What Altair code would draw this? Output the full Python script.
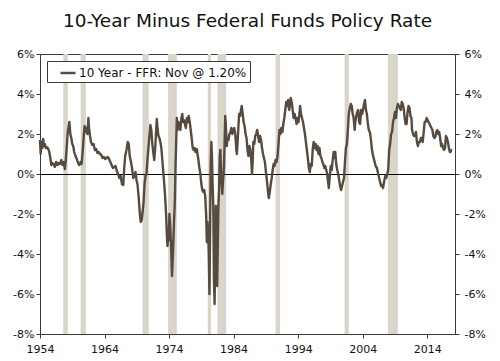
import altair as alt
import pandas as pd

# ---- data ----
years = [
    1954.0, 1954.1, 1954.2, 1954.35, 1954.5, 1954.6, 1954.75, 1954.9, 1955.0, 1955.2,
    1955.4, 1955.55, 1955.75, 1955.9, 1956.1, 1956.3, 1956.5, 1956.7, 1956.9, 1957.1,
    1957.3, 1957.5, 1957.7, 1957.85, 1958.0, 1958.15, 1958.3, 1958.45, 1958.55, 1958.7,
    1958.85, 1959.0, 1959.15, 1959.3, 1959.5, 1959.7, 1959.9, 1960.1, 1960.3, 1960.45,
    1960.6, 1960.75, 1960.9, 1961.05, 1961.2, 1961.35, 1961.5, 1961.6, 1961.75, 1961.9,
    1962.1, 1962.3, 1962.5, 1962.7, 1962.9, 1963.1, 1963.3, 1963.5, 1963.7, 1963.9,
    1964.1, 1964.3, 1964.5, 1964.7, 1964.9, 1965.1, 1965.3, 1965.5, 1965.7, 1965.9,
    1966.1, 1966.3, 1966.5, 1966.7, 1966.9, 1967.05, 1967.2, 1967.4, 1967.6, 1967.75,
    1967.9, 1968.1, 1968.3, 1968.45, 1968.6, 1968.8, 1968.95, 1969.1, 1969.3, 1969.45,
    1969.6, 1969.75, 1969.9, 1970.05, 1970.2, 1970.35, 1970.5, 1970.65, 1970.8, 1970.95,
    1971.1, 1971.25, 1971.4, 1971.55, 1971.7, 1971.85, 1972.0, 1972.1, 1972.2, 1972.35,
    1972.5, 1972.65, 1972.8, 1972.95, 1973.1, 1973.25, 1973.4, 1973.55, 1973.65, 1973.75,
    1973.85, 1973.95, 1974.05, 1974.15, 1974.3, 1974.45, 1974.6, 1974.75, 1974.9, 1975.0,
    1975.1, 1975.2, 1975.3, 1975.45, 1975.6, 1975.75, 1975.9, 1976.05, 1976.15, 1976.3,
    1976.45, 1976.6, 1976.75, 1976.9, 1977.05, 1977.2, 1977.35, 1977.5, 1977.65, 1977.8,
    1977.95, 1978.1, 1978.3, 1978.5, 1978.7, 1978.85, 1979.0, 1979.15, 1979.3, 1979.45,
    1979.6, 1979.75, 1979.85, 1979.95, 1980.05, 1980.15, 1980.25, 1980.35, 1980.45, 1980.55,
    1980.65, 1980.75, 1980.85, 1980.95, 1981.05, 1981.15, 1981.25, 1981.35, 1981.45, 1981.55,
    1981.65, 1981.75, 1981.85, 1981.95, 1982.05, 1982.15, 1982.25, 1982.35, 1982.5, 1982.6,
    1982.7, 1982.8, 1982.95, 1983.05, 1983.2, 1983.35, 1983.5, 1983.65, 1983.8, 1983.95,
    1984.1, 1984.25, 1984.4, 1984.5, 1984.65, 1984.85, 1985.0, 1985.15, 1985.25, 1985.4,
    1985.55, 1985.7, 1985.85, 1986.0, 1986.15, 1986.3, 1986.45, 1986.6, 1986.75, 1986.85,
    1986.95, 1987.05, 1987.2, 1987.35, 1987.5, 1987.65, 1987.8, 1987.95, 1988.1, 1988.25,
    1988.4, 1988.55, 1988.7, 1988.85, 1989.0, 1989.15, 1989.3, 1989.45, 1989.6, 1989.75,
    1989.9, 1990.05, 1990.2, 1990.35, 1990.5, 1990.65, 1990.8, 1990.95, 1991.1, 1991.25,
    1991.4, 1991.55, 1991.7, 1991.85, 1992.0, 1992.15, 1992.3, 1992.45, 1992.6, 1992.75,
    1992.85, 1993.0, 1993.15, 1993.3, 1993.45, 1993.6, 1993.75, 1993.9, 1994.05, 1994.2,
    1994.3, 1994.45, 1994.6, 1994.75, 1994.9, 1995.05, 1995.2, 1995.35, 1995.5, 1995.65,
    1995.8, 1995.95, 1996.1, 1996.25, 1996.4, 1996.55, 1996.7, 1996.85, 1997.0, 1997.15,
    1997.3, 1997.45, 1997.6, 1997.75, 1997.9, 1998.05, 1998.2, 1998.35, 1998.5, 1998.6,
    1998.75, 1998.9, 1999.05, 1999.2, 1999.35, 1999.5, 1999.6, 1999.75, 1999.9, 2000.05,
    2000.2, 2000.35, 2000.5, 2000.65, 2000.8, 2000.95, 2001.1, 2001.25, 2001.4, 2001.55,
    2001.7, 2001.85, 2002.0, 2002.15, 2002.3, 2002.45, 2002.6, 2002.75, 2002.85, 2003.0,
    2003.15, 2003.3, 2003.45, 2003.6, 2003.75, 2003.9, 2004.05, 2004.2, 2004.35, 2004.5,
    2004.65, 2004.8, 2004.95, 2005.1, 2005.25, 2005.4, 2005.55, 2005.7, 2005.85, 2006.0,
    2006.2, 2006.4, 2006.55, 2006.7, 2006.85, 2007.0, 2007.15, 2007.3, 2007.5, 2007.65,
    2007.8, 2007.95, 2008.1, 2008.25, 2008.4, 2008.55, 2008.7, 2008.85, 2009.0, 2009.15,
    2009.3, 2009.45, 2009.6, 2009.75, 2009.9, 2010.05, 2010.2, 2010.35, 2010.5, 2010.65,
    2010.8, 2010.95, 2011.1, 2011.25, 2011.4, 2011.55, 2011.65, 2011.8, 2011.95, 2012.1,
    2012.25, 2012.4, 2012.55, 2012.7, 2012.85, 2013.0, 2013.15, 2013.3, 2013.45, 2013.6,
    2013.75, 2013.9, 2014.05, 2014.2, 2014.35, 2014.5, 2014.65, 2014.8, 2014.95, 2015.1,
    2015.25, 2015.4, 2015.55, 2015.7, 2015.85, 2016.0, 2016.15, 2016.3, 2016.45, 2016.6,
    2016.75, 2016.9, 2017.05, 2017.2, 2017.35, 2017.5, 2017.6, 2017.75, 2017.83,
]
spread = [
    1.70, 1.00, 1.60, 1.30, 1.75, 1.40, 1.50, 1.30, 1.35, 1.30,
    1.15, 0.90, 0.45, 0.55, 0.50, 0.35, 0.60, 0.45, 0.55, 0.50,
    0.70, 0.45, 0.60, 0.25, 0.70, 1.40, 2.10, 2.40, 2.60, 2.00,
    1.80, 1.50, 1.40, 1.10, 0.90, 0.75, 0.55, 0.45, 0.60, 0.50,
    1.10, 1.80, 2.40, 2.10, 2.30, 2.00, 2.80, 2.30, 1.90, 1.60,
    1.45, 1.50, 1.20, 1.25, 1.05, 1.10, 1.00, 0.95, 0.80, 0.85,
    0.75, 0.80, 0.85, 0.75, 0.60, 0.45, 0.30, 0.35, 0.40, 0.15,
    0.00, -0.20, -0.10, -0.50, -0.55, 0.30, 0.90, 1.20, 1.60, 1.50,
    0.90, 0.60, 0.20, -0.20, -0.10, 0.10, -0.30, -0.50, -1.20, -1.90,
    -2.40, -2.30, -1.90, -1.40, -0.50, -0.10, 0.00, 0.70, 1.30, 1.90,
    2.45, 2.20, 1.50, 1.10, 0.70, 1.30, 2.20, 2.75, 2.30, 1.90,
    1.80, 1.60, 1.30, 0.70, 0.10, -0.50, -1.20, -2.10, -3.00, -3.60,
    -3.20, -3.30, -2.00, -2.40, -3.50, -5.10, -4.00, -2.50, -1.30, 0.50,
    1.60, 2.80, 2.20, 2.60, 2.40, 2.20, 2.80, 3.00, 2.60, 2.70,
    2.50, 2.30, 2.80, 2.60, 2.90, 2.60, 2.20, 1.80, 1.30, 1.20,
    1.30, 1.10, 1.25, 0.80, 0.30, 0.00, -0.50, -0.80, -0.90, -0.80,
    -1.10, -2.10, -3.40, -2.40, -2.80, -4.00, -6.00, -3.00, 0.50, 1.60,
    0.80, -0.60, -1.60, -5.20, -6.50, -4.00, -1.60, -3.60, -5.60, -3.50,
    -1.50, -0.80, 0.90, 1.20, 0.20, -0.50, -1.00, -0.40, 0.30, 1.50,
    2.90, 2.40, 1.40, 1.80, 1.70, 2.00, 2.10, 2.30, 2.00, 2.20,
    2.30, 2.00, 1.30, 1.00, 1.80, 3.00, 2.90, 3.20, 3.40, 3.00,
    2.60, 2.40, 2.00, 1.80, 1.20, 0.90, 1.40, 1.20, 0.60, 0.00,
    0.60, 1.60, 1.50, 1.90, 2.00, 2.20, 1.90, 1.60, 1.90, 1.70,
    1.30, 1.00, 0.80, 0.60, 0.10, -0.30, -0.80, -1.20, -0.90, -0.50,
    -0.20, 0.20, 0.50, 0.40, 0.70, 0.60, 0.90, 1.50, 2.20, 2.00,
    2.30, 2.10, 2.50, 2.80, 3.20, 3.60, 3.40, 3.70, 3.20, 3.50,
    3.80, 3.60, 3.20, 2.80, 3.00, 2.80, 2.50, 2.80, 2.60, 3.00,
    3.40, 3.00, 2.80, 2.60, 2.30, 2.00, 1.60, 1.20, 0.80, 0.30,
    0.10, 0.50, 0.40, 1.20, 1.60, 1.30, 1.50, 1.20, 1.40, 1.00,
    1.30, 0.90, 0.80, 0.60, 0.50, 0.30, 0.40, 0.20, 0.00, -0.30,
    -0.70, -0.10, 0.40, 0.20, 0.70, 1.10, 0.80, 1.10, 0.50, 0.20,
    0.00, -0.30, -0.60, -0.80, -0.60, -0.40, -0.20, 0.60, 1.30, 1.50,
    2.20, 3.00, 3.30, 3.50, 3.40, 3.00, 2.80, 2.20, 2.60, 2.90,
    3.10, 3.20, 2.60, 2.50, 3.20, 3.00, 3.20, 3.50, 3.70, 3.20,
    3.00, 2.50, 2.20, 2.10, 1.80, 1.30, 1.00, 0.80, 0.60, 0.40,
    0.30, 0.00, -0.20, -0.40, -0.60, -0.55, -0.70, -0.40, -0.10, -0.20,
    0.00, 0.20, 1.20, 1.50, 2.00, 2.10, 2.60, 2.80, 3.10, 2.80,
    3.30, 3.50, 3.40, 3.30, 3.20, 3.60, 3.50, 3.30, 2.80, 2.50,
    2.50, 3.10, 3.40, 3.30, 2.90, 2.80, 2.20, 2.00, 1.90, 1.90,
    2.10, 1.60, 1.40, 1.60, 1.60, 1.80, 1.80, 1.60, 2.10, 2.60,
    2.60, 2.80, 2.70, 2.60, 2.50, 2.40, 2.30, 2.20, 1.90, 1.80,
    1.85, 2.10, 2.20, 2.00, 2.10, 1.80, 1.40, 1.50, 1.30, 1.20,
    1.30, 1.90, 1.80, 1.60, 1.30, 1.10, 1.10, 1.20, 1.20,
]
series_name = "10 Year - FFR: Nov @ 1.20%"

rec_start = [1957.6, 1960.3, 1969.9, 1973.85, 1980.0, 1981.5, 1990.5, 2001.2, 2007.9]
rec_end = [1958.3, 1961.1, 1970.85, 1975.2, 1980.5, 1982.85, 1991.2, 2001.85, 2009.45]

x_ticks = [1954, 1959, 1964, 1969, 1974, 1979, 1984, 1989, 1994, 1999, 2004, 2009, 2014]
y_ticks = [-8, -6, -4, -2, 0, 2, 4, 6]

line_color = "#574b3f"
rec_color = "#d9d5ca"
axis_color = "#3a3a3a"
font = "DejaVu Sans"

df = pd.DataFrame({"year": years, "spread": spread, "series": series_name})
rec = pd.DataFrame({"start": rec_start, "end": rec_end})

xs = alt.Scale(domain=[1954, 2018.3], nice=False, zero=False)
ys = alt.Scale(domain=[-8, 6], nice=False, zero=False)

x_axis = alt.Axis(values=x_ticks, labelExpr="datum.value % 10 == 4 ? datum.value : ''",
                  title=None, grid=False, tickSize=4, labelPadding=5, format="d",
                  labelFlush=False, labelOverlap=False)

bands = alt.Chart(rec).mark_rect(color=rec_color).encode(
    x=alt.X("start:Q", scale=xs, axis=x_axis),
    x2="end:Q",
    y=alt.Y(datum=6, scale=ys, axis=alt.Axis(values=y_ticks, orient="left", title=None,
                                             grid=False, tickSize=4, labelPadding=2,
                                             labelFlush=False,
                                             labelExpr="datum.value + '%'")),
    y2=alt.datum(-8),
)

zero = alt.Chart(rec).mark_rule(color="black", strokeWidth=1, yOffset=0.5).encode(
    y=alt.Y(datum=0, scale=ys, axis=alt.Axis(values=y_ticks, orient="right", title=None,
                                             grid=False, tickSize=4, labelPadding=5,
                                             labelFlush=False,
                                             labelExpr="datum.value + '%'")),
)

line = alt.Chart(df).mark_line(strokeWidth=2.4, strokeJoin="round").encode(
    x=alt.X("year:Q", scale=xs),
    y=alt.Y("spread:Q", scale=ys, axis=None),
    color=alt.Color("series:N",
                    scale=alt.Scale(domain=[series_name], range=[line_color]),
                    legend=alt.Legend(title=None, orient="none", legendX=7, legendY=7,
                                      strokeColor=axis_color, fillColor="white",
                                      padding=3, symbolType="stroke", symbolSize=225,
                                      symbolStrokeWidth=2.5, symbolOffset=9,
                                      labelOffset=2, labelFontSize=12, labelLimit=400)),
)

chart = alt.layer(bands, zero, line).resolve_axis(y="independent").properties(
    width=415,
    height=280,
    autosize=alt.AutoSizeParams(type="none"),
    padding={"left": 32, "top": 46, "right": 37, "bottom": 21},
    title=alt.Title("10-Year Minus Federal Funds Policy Rate", fontSize=18.5,
                    fontWeight="normal", font=font, color="#111", offset=18,
                    anchor="middle"),
).configure_view(stroke=axis_color, strokeWidth=1).configure_axis(
    domainColor=axis_color, tickColor=axis_color, labelColor="#111",
    labelFont=font, labelFontSize=11,
).configure_legend(labelFont=font, labelColor="#111")

chart.save("out.html", embed_options={"renderer": "svg", "actions": False})
